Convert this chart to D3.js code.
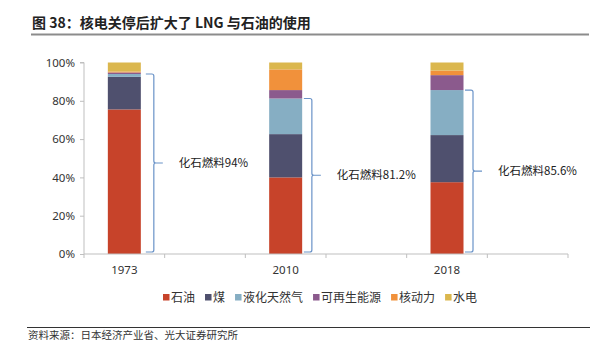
<!DOCTYPE html>
<html><head><meta charset="utf-8">
<script src="https://cdn.jsdelivr.net/npm/d3@7/dist/d3.min.js"></script>
<style>body{margin:0;background:#fff}svg{display:block;font-family:"Noto Sans CJK SC","Noto Sans",sans-serif}</style>
</head><body><svg id="c" width="596" height="357"></svg>
<script>
const categories = ["1973", "", "2010", "", "2018", ""];
const seriesNames = ["石油", "煤", "液化天然气", "可再生能源", "核动力", "水电"];
const seriesColors = ["#C7432A", "#4F506E", "#86AEC3", "#8B5A8D", "#F1913B", "#DBB74E"];
const oil        = [75.5, null, 40.0, null, 37.5, null];
const coal       = [17.0, null, 22.6, null, 24.6, null];
const lng        = [1.5,  null, 18.6, null, 23.5, null];
const renewables = [0.8,  null, 4.4,  null, 7.8,  null];
const nuclear    = [0.5,  null, 10.8, null, 2.4,  null];
const hydro      = [4.7,  null, 3.6,  null, 4.2,  null];
const yTicks = [0, 20, 40, 60, 80, 100];
const fossilLabels = ["化石燃料94%", null, "化石燃料81.2%", null, "化石燃料85.6%", null];
const fossilShare = [94, null, 81.2, null, 85.6, null];

const svg = d3.select("#c");
const mLeft = 84, mRight = 568, mTop = 62.5, mBottom = 254;
const x = d3.scaleBand().domain(d3.range(categories.length)).range([mLeft, mRight]).paddingInner(0).paddingOuter(0);
const y = d3.scaleLinear().domain([0, 100]).range([mBottom, mTop]);

// title
svg.append("text").attr("x", 32).attr("y", 28).attr("font-size", 14).attr("font-weight", "bold").attr("fill", "#222")
  .text("图 38：核电关停后扩大了 LNG 与石油的使用");
svg.append("line").attr("x1", 31).attr("x2", 589).attr("y1", 34.5).attr("y2", 34.5).attr("stroke", "#8c8c8c").attr("stroke-width", 2);

// bars
const series = [oil, coal, lng, renewables, nuclear, hydro];
const rows = categories.map((c, i) => { const r = {i}; series.forEach((s, k) => r[k] = s[i] || 0); return r; });
const stack = d3.stack().keys(d3.range(series.length))(rows);
const bw = 33;
stack.forEach((layer, k) => {
  svg.append("g").selectAll("rect").data(layer.filter(d => d.data[k] > 0)).join("rect")
    .attr("x", d => x(d.data.i) + x.bandwidth() / 2 - bw / 2)
    .attr("width", bw)
    .attr("y", d => y(d[1]))
    .attr("height", d => y(d[0]) - y(d[1]))
    .attr("fill", seriesColors[k]);
});

// axes
const yAxis = d3.axisLeft(y).tickValues(yTicks).tickFormat(d => d + "%").tickSize(4).tickPadding(5);
const gy = svg.append("g").attr("transform", `translate(${mLeft},0)`).call(yAxis);
gy.select(".domain").attr("stroke", "#bfbfbf").attr("d", `M-4,${mTop}H0V${mBottom}`);
gy.selectAll(".tick line").attr("stroke", "#bfbfbf");
gy.selectAll("text").attr("font-size", 11.5).attr("fill", "#333").attr("font-family", "'Noto Sans','Noto Sans CJK SC',sans-serif");

const gx = svg.append("g").attr("transform", `translate(0,${mBottom})`);
gx.append("line").attr("x1", mLeft).attr("x2", mRight).attr("stroke", "#bfbfbf");
gx.selectAll("line.t").data(d3.range(categories.length + 1)).join("line").attr("class", "t")
  .attr("x1", i => mLeft + i * x.bandwidth()).attr("x2", i => mLeft + i * x.bandwidth())
  .attr("y1", 0).attr("y2", 4).attr("stroke", "#bfbfbf");
gx.selectAll("text").data(categories.map((c, i) => ({c, i})).filter(d => d.c)).join("text")
  .attr("x", d => x(d.i) + x.bandwidth() / 2).attr("y", 20).attr("text-anchor", "middle")
  .attr("font-size", 11.5).attr("fill", "#333").attr("font-family", "'Noto Sans','Noto Sans CJK SC',sans-serif")
  .text(d => d.c);

// braces
const braceOffsets = [13, 0, 9.7, 0, 9.5, 0];
fossilLabels.forEach((lab, i) => {
  if (!lab) return;
  const bx = x(i) + x.bandwidth() / 2 + bw / 2;
  const vx = bx + braceOffsets[i];
  const y0 = y(0) - 2, y1 = y(fossilShare[i]);
  const ym = (y0 + y1) / 2;
  const p = d3.path();
  p.moveTo(vx - 8, y1); p.lineTo(vx - 2, y1); p.quadraticCurveTo(vx, y1, vx, y1 + 2);
  p.lineTo(vx, ym - 2); p.quadraticCurveTo(vx, ym, vx + 2, ym); p.lineTo(vx + 9, ym);
  p.moveTo(vx + 2, ym); p.quadraticCurveTo(vx, ym, vx, ym + 2);
  p.lineTo(vx, y0 - 2); p.quadraticCurveTo(vx, y0, vx - 2, y0); p.lineTo(vx - 8, y0);
  svg.append("path").attr("d", p.toString()).attr("fill", "none").attr("stroke", "#6a93c8").attr("stroke-width", 1.2);
  svg.append("text").attr("x", vx + 25).attr("y", ym + 4).attr("font-size", 11.5).attr("fill", "#222").text(lab);
});

// legend
let lx = 163;
const lg = svg.append("g");
seriesNames.forEach((n, k) => {
  lg.append("rect").attr("x", lx).attr("y", 294).attr("width", 6.5).attr("height", 6.5).attr("fill", seriesColors[k]);
  const t = lg.append("text").attr("x", lx + 8).attr("y", 301.5).attr("font-size", 12).attr("fill", "#333").text(n);
  lx += 8 + t.node().getComputedTextLength() + 10;
});

// source
svg.append("line").attr("x1", 27).attr("x2", 590).attr("y1", 327.5).attr("y2", 327.5).attr("stroke", "#333").attr("stroke-width", 1);
svg.append("text").attr("x", 28).attr("y", 339).attr("font-size", 10.5).attr("fill", "#333").text("资料来源：日本经济产业省、光大证券研究所");
</script></body></html>
